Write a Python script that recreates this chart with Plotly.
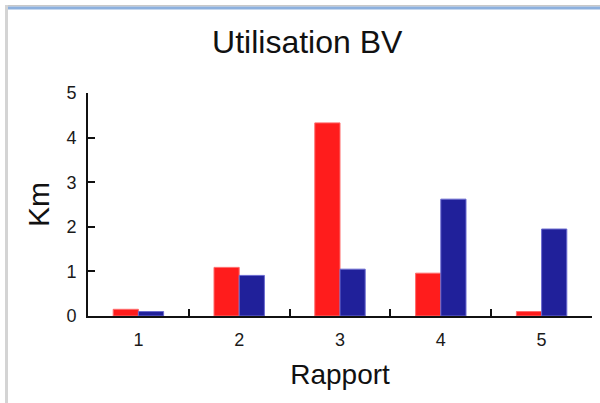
import plotly.graph_objects as go

categories = ["1", "2", "3", "4", "5"]
red_values = [0.15, 1.09, 4.33, 0.96, 0.10]
blue_values = [0.10, 0.91, 1.05, 2.62, 1.95]
y_ticks = [0, 1, 2, 3, 4, 5]

W, H = 600, 403
L, R, T, B = 88, 8, 93, 87
pw, ph = W - L - R, H - T - B

def px(x):
    return (x - L) / pw

def py(y):
    return (H - B - y) / ph

fig = go.Figure()
fig.add_trace(go.Bar(x=categories, y=red_values, name="A",
                     marker=dict(color="#ff1c1c", line=dict(color="#ff6a6a", width=1))))
fig.add_trace(go.Bar(x=categories, y=blue_values, name="B",
                     marker=dict(color="#20209a", line=dict(color="#6a6ad0", width=1))))

font = "Liberation Sans, Arial, sans-serif"
fig.update_layout(
    width=W, height=H,
    margin=dict(l=L, r=R, t=T, b=B, pad=0),
    paper_bgcolor="white", plot_bgcolor="white",
    barmode="group", bargap=0.5, bargroupgap=0,
    showlegend=False,
    title=dict(text="Utilisation BV", x=0.512, xanchor="center", y=1 - 31 / H,
               yanchor="top", yref="container",
               font=dict(family=font, size=32, color="#111111")),
    xaxis=dict(type="category", tickson="boundaries", ticks="inside", ticklen=7,
               tickwidth=2, tickcolor="#111111", showline=True, linecolor="#111111",
               linewidth=2, showgrid=False, zeroline=False,
               tickfont=dict(family=font, size=18, color="#1a1a1a"),
               ticklabelstandoff=6,
               title=dict(text="Rapport", font=dict(family=font, size=28, color="#111111"),
                          standoff=16)),
    yaxis=dict(range=[0, 5], tickvals=y_ticks, ticks="inside", ticklen=7,
               tickwidth=2, tickcolor="#111111", showline=True, linecolor="#111111",
               linewidth=2, showgrid=False, zeroline=False,
               tickfont=dict(family=font, size=18, color="#1a1a1a"),
               ticklabelstandoff=6,
               title=dict(text="Km", font=dict(family=font, size=30, color="#111111"),
                          standoff=8)),
)

# window frame decorations
fig.add_shape(type="rect", xref="paper", yref="paper", x0=px(5), x1=px(600),
              y0=py(5), y1=py(6.5), line=dict(width=0), fillcolor="#c8c8c8", layer="above")
fig.add_shape(type="rect", xref="paper", yref="paper", x0=px(7), x1=px(600),
              y0=py(6.5), y1=py(9.5), line=dict(width=0), fillcolor="#8cb0de", layer="above")
fig.add_shape(type="rect", xref="paper", yref="paper", x0=px(5), x1=px(8),
              y0=py(5), y1=py(403), line=dict(width=0), fillcolor="#d4d4d4", layer="above")

fig.write_html("out.html", config={"displayModeBar": False},
               post_script="document.body.style.margin='0';document.body.style.overflow='hidden';")
